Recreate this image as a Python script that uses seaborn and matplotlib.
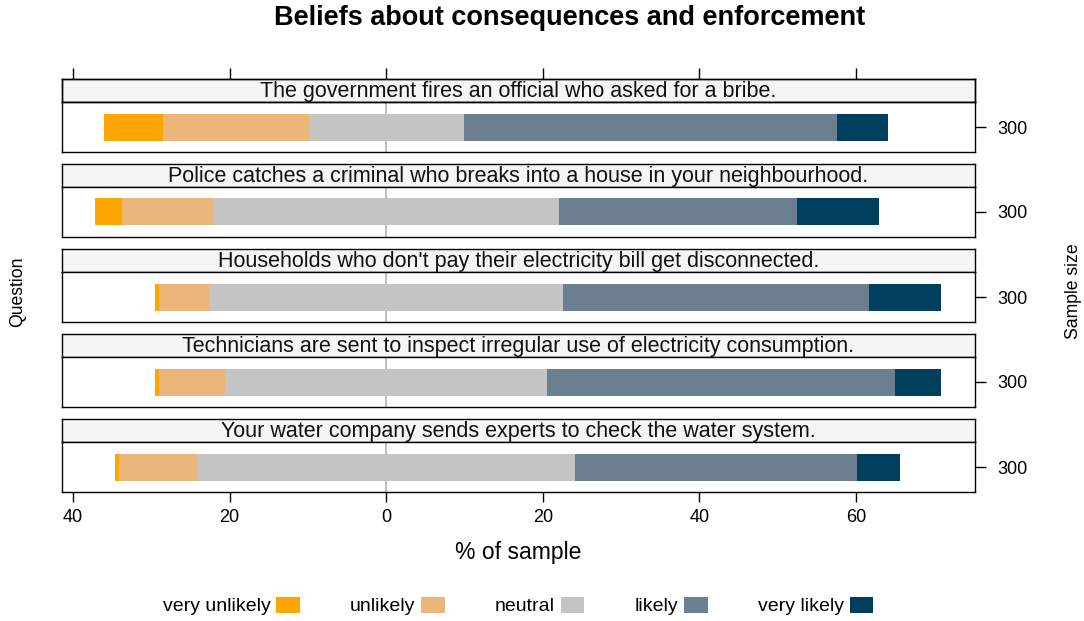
import matplotlib
matplotlib.use("Agg")
import matplotlib.pyplot as plt
import pandas as pd
import seaborn as sns
from matplotlib.patches import Patch

# Survey results: share of respondents (%) per answer level
questions = [
    "The government fires an official who asked for a bribe.",
    "Police catches a criminal who breaks into a house in your neighbourhood.",
    "Households who don't pay their electricity bill get disconnected.",
    "Technicians are sent to inspect irregular use of electricity consumption.",
    "Your water company sends experts to check the water system.",
]
very_unlikely = [7.5, 3.5, 0.5, 0.55, 0.55]
unlikely = [18.6, 11.6, 6.4, 8.35, 10.0]
neutral = [19.8, 44.2, 45.2, 41.2, 48.2]
likely = [47.7, 30.4, 39.0, 44.4, 36.0]
very_likely = [6.5, 10.5, 9.2, 5.8, 5.5]
sample_size = [300, 300, 300, 300, 300]

levels = ["very unlikely", "unlikely", "neutral", "likely", "very likely"]
level_colors = ["#FFA500", "#ECB67B", "#C4C4C4", "#6C7F91", "#00405E"]

x_ticks = [-40, -20, 0, 20, 40, 60]
x_ticklabels = ["40", "20", "0", "20", "40", "60"]

sns.set_theme(style="white")
plt.rcParams["font.family"] = ["Liberation Sans", "DejaVu Sans"]
plt.rcParams["text.color"] = "black"
plt.rcParams["xtick.color"] = "black"
plt.rcParams["ytick.color"] = "black"
plt.rcParams["axes.labelcolor"] = "black"

W, H = 1084, 621
fig = plt.figure(figsize=(W / 100, H / 100), dpi=100)


def box(x0, y0, x1, y1):
    """Axes rectangle from pixel edges measured from the top-left corner."""
    return [x0 / W, 1 - y1 / H, (x1 - x0) / W, (y1 - y0) / H]


palette = {
    "very unlikely": level_colors[0],
    "unlikely": level_colors[1],
    "neutral (left)": level_colors[2],
    "very likely": level_colors[4],
    "likely": level_colors[3],
    "neutral (right)": level_colors[2],
}
draw_order = list(palette.keys())

X0, X1 = 62, 975
xlim = (-41.4, 75.2)

for k, q in enumerate(questions):
    top = 79 + 85 * k

    # strip with the question text
    sax = fig.add_axes(box(X0, top, X1, top + 23))
    sax.set_facecolor("#F5F5F5")
    sax.set_xticks([])
    sax.set_yticks([])
    sax.text(0.5, 0.2, q, ha="center", va="baseline", fontsize=15.5,
             color="#111111", transform=sax.transAxes)

    ax = fig.add_axes(box(X0, top + 23, X1, top + 73))
    half = neutral[k] / 2
    segs = pd.DataFrame({
        "segment": draw_order,
        "end": [
            -(half + unlikely[k] + very_unlikely[k]),
            -(half + unlikely[k]),
            -half,
            half + likely[k] + very_likely[k],
            half + likely[k],
            half,
        ],
    })
    segs["question"] = q
    sns.barplot(data=segs, x="end", y="question", hue="segment",
                hue_order=draw_order, palette=palette, dodge=False,
                saturation=1, width=0.54, errorbar=None, legend=False,
                linewidth=0, orient="h", ax=ax)
    ax.axvline(0, color="#B3B3B3", lw=1.2, zorder=0.5)

    ax.set_xlim(*xlim)
    ax.set_ylim(0.5, -0.5)
    ax.set_xlabel("")
    ax.set_ylabel("")
    ax.set_yticks([0])
    ax.set_yticklabels([str(sample_size[k])])
    ax.tick_params(axis="y", left=False, right=True, labelleft=False,
                   labelright=True, length=8, width=1, pad=8, labelsize=13,
                   color="black")
    ax.set_xticks(x_ticks)
    if k == len(questions) - 1:
        ax.set_xticklabels(x_ticklabels)
        ax.tick_params(axis="x", bottom=True, top=False, labelbottom=True,
                       length=7.5, width=1, pad=5, labelsize=13, color="black")
    else:
        ax.tick_params(axis="x", bottom=False, labelbottom=False)

    for a in (ax, sax):
        for sp in a.spines.values():
            sp.set_color("black")
            sp.set_linewidth(1)

    if k == 0:
        tax = sax.twiny()
        tax.set_xlim(*xlim)
        tax.set_xticks(x_ticks)
        tax.tick_params(axis="x", top=True, labeltop=False, length=8,
                        width=1, color="black")
        tax.set_yticks([])
        for sp in tax.spines.values():
            sp.set_color("black")
            sp.set_linewidth(1)

fig.text(570 / W, 1 - 18 / H, "Beliefs about consequences and enforcement",
         ha="center", va="center", fontsize=19.5, fontweight="bold")
fig.text(518 / W, 1 - 553 / H, "% of sample", ha="center", va="center",
         fontsize=16.5)
fig.text(18 / W, 1 - 292 / H, "Question", ha="center", va="center",
         rotation=90, fontsize=12.7)
fig.text(1074 / W, 1 - 291 / H, "Sample size", ha="center", va="center",
         rotation=90, fontsize=12.7)

handles = [Patch(facecolor=c, edgecolor="none", label=l)
           for l, c in zip(levels, level_colors)]
fig.legend(handles=handles, loc="center", bbox_to_anchor=(518 / W, 1 - 606 / H),
           ncol=5, markerfirst=False, frameon=False, fontsize=14,
           handlelength=1.2, handleheight=0.9, handletextpad=0.3,
           columnspacing=2.6)

fig.savefig("out.png", dpi=100)
